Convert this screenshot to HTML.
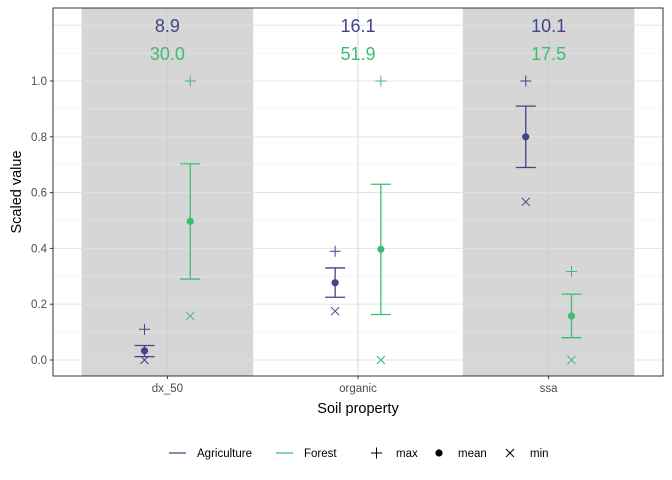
<!DOCTYPE html>
<html><head><meta charset="utf-8"><style>body{margin:0;background:#fff}svg{display:block;font-family:"Liberation Sans",sans-serif}</style></head>
<body>
<svg id="c" width="672" height="480"></svg>
<script>
const categories=["dx_50","organic","ssa"];
const groups=["Agriculture","Forest"];
const meanAg=[0.033,0.277,0.80];
const loAg=[0.012,0.225,0.69];
const hiAg=[0.052,0.33,0.91];
const maxAg=[0.11,0.39,1.0];
const minAg=[0.0,0.175,0.567];
const meanFo=[0.497,0.397,0.158];
const loFo=[0.29,0.163,0.08];
const hiFo=[0.703,0.63,0.236];
const maxFo=[1.0,1.0,0.317];
const minFo=[0.158,0.0,0.0];
const labelAg=["8.9","16.1","10.1"];
const labelFo=["30.0","51.9","17.5"];
const yTicks=[0,0.2,0.4,0.6,0.8,1.0];
const shaded=[true,false,true];

const NS="http://www.w3.org/2000/svg",svg=document.getElementById('c');
const L=53,R=663,T=8,B=376;
const xs=i=>L+(i+0.6)*(R-L)/3.2;
const unit=(R-L)/3.2;
const ys=v=>360-279*v;
const colors=["#414487","#3dbc74"];
function el(t,a,p){const e=document.createElementNS(NS,t);for(const k in a)e.setAttribute(k,a[k]);(p||svg).appendChild(e);return e;}
function txt(s,a){const e=el('text',a);e.textContent=s;return e;}

let r=el('rect',{x:L,y:T,width:R-L,height:B-T,fill:'#fff'});

categories.forEach((c,i)=>{if(shaded[i]){const b=el('rect',{x:xs(i)-0.45*unit,y:T,width:0.9*unit,height:B-T,fill:'#d6d6d6'});
}});
for(let v=-0.1;v<=1.3;v+=0.1){const y=ys(v);if(y<T||y>B)continue;
const major=Math.abs(Math.round(v*10)%2)===0;
const g=el('line',{x1:L,x2:R,y1:y,y2:y,stroke:major?'#e0e0e0':'#ececec','stroke-width':major?1.1:0.6,'stroke-opacity':0.8});
}
categories.forEach((c,i)=>{const g=el('line',{x1:xs(i),x2:xs(i),y1:T,y2:B,stroke:'#cfcfcf','stroke-width':1.1,'stroke-opacity':0.7});
});
el('rect',{x:L,y:T,width:R-L,height:B-T,fill:'none',stroke:'#333','stroke-width':1});

function series(mean,lo,hi,mx,mn,lab,k,dy){
const col=colors[k],off=(k===0?-0.12:0.12)*unit;
categories.forEach((c,i)=>{const x=xs(i)+off;
let e=el('line',{x1:x,x2:x,y1:ys(hi[i]),y2:ys(lo[i]),stroke:col,'stroke-width':1.3});

[hi[i],lo[i]].forEach(v=>el('line',{x1:x-10,x2:x+10,y1:ys(v),y2:ys(v),stroke:col,'stroke-width':1.3}));
e=el('circle',{cx:x,cy:ys(mean[i]),r:3.6,fill:col});

const py=ys(mx[i]);
e=el('path',{d:`M${x-5.5},${py}h11M${x},${py-5.5}v11`,stroke:col,'stroke-width':1});

const my=ys(mn[i]);
e=el('path',{d:`M${x-4},${my-4}l8,8M${x-4},${my+4}l8,-8`,stroke:col,'stroke-width':1});

e=txt(lab[i],{x:xs(i),y:dy,'text-anchor':'middle','font-size':18,fill:col});

});}
series(meanAg,loAg,hiAg,maxAg,minAg,labelAg,0,32);
series(meanFo,loFo,hiFo,maxFo,minFo,labelFo,1,60);

yTicks.forEach(v=>{const y=ys(v);el('line',{x1:L-3,x2:L,y1:y,y2:y,stroke:'#333'});
const t=txt(v.toFixed(1),{x:L-6,y:y+4,'text-anchor':'end','font-size':11.5,fill:'#4d4d4d'});
});
categories.forEach((c,i)=>{el('line',{x1:xs(i),x2:xs(i),y1:B,y2:B+3,stroke:'#333'});
const t=txt(c,{x:xs(i),y:B+16,'text-anchor':'middle','font-size':11.5,fill:'#4d4d4d'});
});
let t=txt('Soil property',{x:(L+R)/2,y:413,'text-anchor':'middle','font-size':14.5,fill:'#000'});

t=txt('Scaled value',{x:0,y:0,transform:'translate(21,192) rotate(-90)','text-anchor':'middle','font-size':14.5,fill:'#000'});


const lg=el('g',{});
const ly=453;
[[169,'Agriculture',0],[276,'Forest',1]].forEach(([x,n,k])=>{el('line',{x1:x,x2:x+17,y1:ly,y2:ly,stroke:colors[k],'stroke-width':1.3},lg);
const e=txt(n,{x:x+28,y:ly+4,'font-size':11.5},lg);});
el('path',{d:`M${371},${ly}h11M${376.5},${ly-5.5}v11`,stroke:'#000'},lg);
txt('max',{x:396,y:ly+4,'font-size':11.5},lg);
el('circle',{cx:439,cy:ly,r:3.6,fill:'#000'},lg);
txt('mean',{x:458,y:ly+4,'font-size':11.5},lg);
el('path',{d:`M${506},${ly-4}l8,8M${506},${ly+4}l8,-8`,stroke:'#000'},lg);
txt('min',{x:530,y:ly+4,'font-size':11.5},lg);
</script>
</body></html>
